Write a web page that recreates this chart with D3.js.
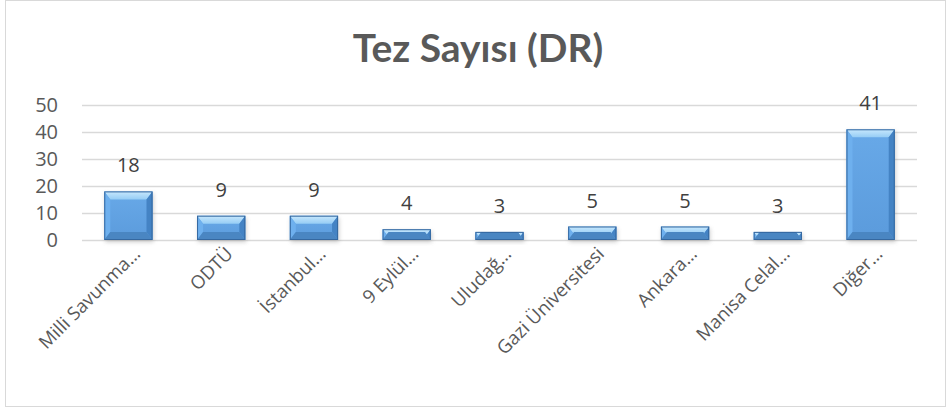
<!DOCTYPE html>
<html>
<head>
<meta charset="utf-8">
<script src="https://cdn.jsdelivr.net/npm/d3@7"></script>
<style>
  body { margin: 0; background: #fff; }
</style>
</head>
<body>
<script>
// data
var categories = ["Milli Savunma…", "ODTÜ", "İstanbul…", "9 Eylül…", "Uludağ…", "Gazi Üniversitesi", "Ankara…", "Manisa Celal…", "Diğer…"];
var values = [18, 9, 9, 4, 3, 5, 5, 3, 41];
var yTicks = [0, 10, 20, 30, 40, 50];
var chartTitle = "Tez Sayısı (DR)";

var width = 948, height = 412;
var margin = { top: 105, right: 31, bottom: 172, left: 82 };
var font = "'Open Sans', sans-serif";

var svg = d3.select("body").append("svg")
    .attr("width", width)
    .attr("height", height);

var defs = svg.append("defs");
var blur = defs.append("filter").attr("id", "shadow")
    .attr("x", "-30%").attr("y", "-30%").attr("width", "160%").attr("height", "160%");
blur.append("feGaussianBlur").attr("stdDeviation", 2);

var topGrad = defs.append("linearGradient").attr("id", "topBev")
    .attr("x1", 0).attr("y1", 0).attr("x2", 0).attr("y2", 1);
topGrad.append("stop").attr("offset", "0%").attr("stop-color", "#c8e8fd");
topGrad.append("stop").attr("offset", "100%").attr("stop-color", "#96cdf5");

var faceGrad = defs.append("linearGradient").attr("id", "face")
    .attr("x1", 0).attr("y1", 0).attr("x2", 0).attr("y2", 1);
faceGrad.append("stop").attr("offset", "0%").attr("stop-color", "#68a9e8");
faceGrad.append("stop").attr("offset", "100%").attr("stop-color", "#5b9bdc");

// outer frame
svg.append("rect")
    .attr("x", 5.5).attr("y", 0.5)
    .attr("width", 940).attr("height", 406)
    .attr("fill", "#fff")
    .attr("stroke", "#d9d9d9");

// title
svg.append("text")
    .attr("x", 478)
    .attr("y", 62)
    .attr("text-anchor", "middle")
    .attr("fill", "#595959")
    .style("font-family", "Lato, 'Open Sans', sans-serif")
    .style("font-weight", "bold")
    .style("font-size", "39px")
    .text(chartTitle);

var x = d3.scaleBand()
    .domain(categories)
    .range([margin.left, width - margin.right])
    .paddingInner(0.48)
    .paddingOuter(0.24);

var y = d3.scaleLinear()
    .domain([0, 50])
    .range([height - margin.bottom, margin.top]);

// gridlines
svg.append("g").selectAll("line")
    .data(yTicks)
    .enter().append("line")
    .attr("x1", margin.left)
    .attr("x2", width - margin.right)
    .attr("y1", function(d) { return Math.round(y(d)) + 0.5; })
    .attr("y2", function(d) { return Math.round(y(d)) + 0.5; })
    .attr("stroke", "#d9d9d9")
    .attr("stroke-width", 1.5);

// y axis labels
var yAxis = svg.append("g")
    .attr("transform", "translate(" + (margin.left - 10) + ",0)")
    .call(d3.axisLeft(y).tickValues(yTicks).tickSize(0).tickPadding(14));
yAxis.select(".domain").remove();
yAxis.attr("font-family", font).attr("font-size", 20);
yAxis.selectAll("text").attr("fill", "#595959");

// bars (bevelled look)
var bars = svg.append("g").selectAll("g")
    .data(values)
    .enter().append("g")
    .attr("transform", function(d, i) { return "translate(" + x(categories[i]) + ",0)"; });

var bw = x.bandwidth();
var bev = 8, side = 6;

bars.append("rect")
    .attr("x", 1).attr("y", function(d) { return y(d) + 2; })
    .attr("width", bw).attr("height", function(d) { return y(0) - y(d); })
    .attr("fill", "#7f7f7f")
    .attr("opacity", 0.4)
    .attr("filter", "url(#shadow)");

bars.append("rect")
    .attr("x", 0).attr("y", function(d) { return y(d); })
    .attr("width", bw).attr("height", function(d) { return y(0) - y(d); })
    .attr("fill", "url(#face)");

// top bevel
bars.append("path")
    .attr("d", function(d) {
        var t = y(d);
        return "M0," + t + "L" + bw + "," + t + "L" + (bw - side) + "," + (t + bev) + "L" + side + "," + (t + bev) + "Z";
    })
    .attr("fill", "url(#topBev)");
// left bevel
bars.append("path")
    .attr("d", function(d) {
        var t = y(d), b = y(0);
        return "M0," + t + "L" + side + "," + (t + bev) + "L" + side + "," + (b - bev) + "L0," + b + "Z";
    })
    .attr("fill", "#6eb0ee");
// right bevel
bars.append("path")
    .attr("d", function(d) {
        var t = y(d), b = y(0);
        return "M" + bw + "," + t + "L" + (bw - side) + "," + (t + bev) + "L" + (bw - side) + "," + (b - bev) + "L" + bw + "," + b + "Z";
    })
    .attr("fill", "#4483c4");
// bottom bevel
bars.append("path")
    .attr("d", function(d) {
        var b = y(0);
        return "M0," + b + "L" + side + "," + (b - bev) + "L" + (bw - side) + "," + (b - bev) + "L" + bw + "," + b + "Z";
    })
    .attr("fill", "#4a86c2");
bars.append("rect")
    .attr("x", 0.5).attr("y", function(d) { return y(d) + 0.5; })
    .attr("width", bw - 1).attr("height", function(d) { return y(0) - y(d) - 1; })
    .attr("fill", "none")
    .attr("stroke", "#3568a0")
    .attr("stroke-width", 1);

// value labels
svg.append("g").selectAll("text")
    .data(values)
    .enter().append("text")
    .attr("x", function(d, i) { return x(categories[i]) + bw / 2; })
    .attr("y", function(d) { return y(d) - 19; })
    .attr("text-anchor", "middle")
    .attr("fill", "#404040")
    .attr("font-family", font)
    .attr("font-size", 20)
    .text(function(d) { return d; });

// category labels, rotated
svg.append("g").selectAll("text")
    .data(categories)
    .enter().append("text")
    .attr("transform", function(d) {
        return "translate(" + (x(d) + bw / 2 + 13) + "," + 255 + ") rotate(-45)";
    })
    .attr("text-anchor", "end")
    .attr("fill", "#595959")
    .attr("font-family", font)
    .attr("font-size", 18.5)
    .text(function(d) { return d; });
</script>
</body>
</html>
